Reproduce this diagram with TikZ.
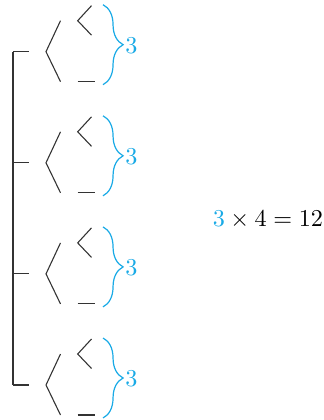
\documentclass[tikz,border=0pt]{standalone}
\usepackage{amsmath}
\usepackage{xcolor}
\usepackage{tikz}
\usetikzlibrary{decorations.pathreplacing}

\definecolor{cntblue}{RGB}{25,170,230}

\tikzset{
  branche/.style={draw=black!80, line width=0.45pt},
  accolade/.style={draw=cntblue, line width=0.5pt, decorate,
    decoration={brace, amplitude=8.3pt}},
  compte/.style={text=cntblue, anchor=base west, inner sep=0pt}
}

\begin{document}
\begin{tikzpicture}[x=0.01453cm, y=-0.01453cm]
\useasboundingbox (0,0) rectangle (324,420);

% Tronc vertical
\coordinate (haut) at (13,51.7);
\coordinate (bas) at (13,385);
\draw[branche] (haut) -- (bas);

% Les quatre branches
\foreach \i [evaluate=\i as \y using 51.7+111.1*\i] in {0,...,3}{
  % depart sur le tronc
  \coordinate (t\i) at (13,\y);
  \coordinate (a\i) at (29,\y);
  \draw[branche] (t\i) -- (a\i);

  % grand chevron
  \coordinate (n\i) at (46,\y);
  \coordinate (h\i) at (60.5,{\y-31});
  \coordinate (b\i) at (60.5,{\y+30});
  \draw[branche] (h\i) -- (n\i) -- (b\i);

  % petit chevron en haut
  \coordinate (p\i) at (77.7,{\y-31});
  \coordinate (ph\i) at (91.5,{\y-46});
  \coordinate (pb\i) at (91.5,{\y-16.5});
  \draw[branche] (ph\i) -- (p\i) -- (pb\i);

  % trait en bas
  \coordinate (q\i) at (77.7,{\y+30});
  \coordinate (qf\i) at (94.5,{\y+30});
  \draw[branche] (q\i) -- (qf\i);

  % accolade et nombre de feuilles
  \coordinate (ah\i) at (103,{\y-47});
  \coordinate (ab\i) at (103,{\y+33});
  \draw[accolade] (ah\i) -- (ab\i);
  \node[compte] (c\i) at (125,{\y+1.5}) {$3$};
}

% Resultat
\node[anchor=base, inner sep=0pt] (total) at (268,227) {$\textcolor{cntblue}{3}\times 4=12$};

\end{tikzpicture}
\end{document}
